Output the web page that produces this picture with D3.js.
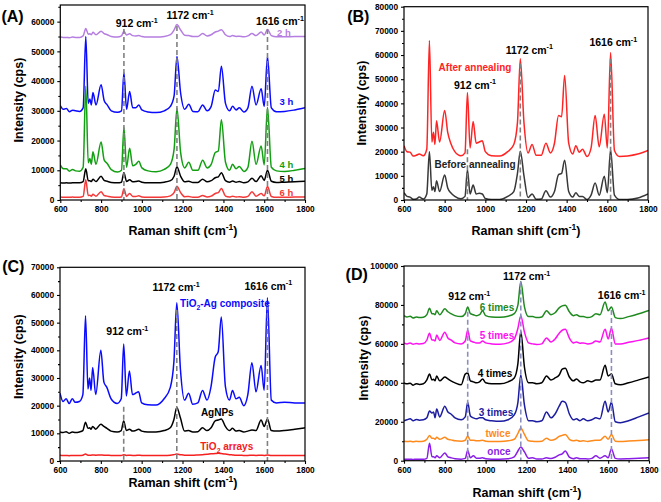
<!DOCTYPE html>
<html><head><meta charset="utf-8">
<script src="https://cdn.jsdelivr.net/npm/d3@7"></script>
<style>
body{margin:0;background:#fff}
text{font-family:"Liberation Sans",Arial,Helvetica,sans-serif;font-weight:bold}
</style>
</head><body>
<svg id="chart" width="661" height="502"></svg>
<script>
// ---- shared Raman shift sampling (cm-1) ----
const wavenumbers = [600,615,630,645,660,675,695,712,725,737,
  745,752,760,775,800,815,830,850,880,900,
  912,925,940,955,970,985,1000,1030,1070,1110,
  1140,1158,1172,1190,1210,1230,1250,1275,1298,1320,
  1340,1360,1375,1390,1410,1430,1445,1462,1478,1500,
  1520,1540,1560,1585,1600,1616,1635,1660,1700,1750,
  1800];
const xTickValues = [600,800,1000,1200,1400,1600,1800];

// ---- Panel A: growth time ----
const a2h = [54800,54700,54700,54600,54800,54700,54700,55200,57700,55800,
  55900,55600,56400,55600,56800,56000,55600,55000,54800,55200,
  56800,55500,55900,55300,55200,55300,55000,54800,54800,55000,
  55600,57200,59000,57200,55400,55300,55000,55000,56000,55200,
  55600,56500,56800,57300,55600,55000,55300,55000,55100,54900,
  55200,56000,55300,56500,55500,57400,55300,54900,54900,55000,
  55000];
const a3h = [31800,30500,30800,29700,30200,30000,29800,31000,55000,32500,
  34000,32000,36200,32000,38800,33500,32000,30000,29500,30000,
  42800,30500,36500,31000,31000,32000,30300,29600,29400,30000,
  31500,35000,48300,36000,30500,32200,29800,29700,32000,30000,
  31500,37000,36500,45000,32500,30000,31500,30300,31000,29600,
  31000,38300,32000,37400,31500,48300,31000,29700,29800,30300,
  31000];
const a4h = [11800,10500,10500,9700,10300,9800,9700,11000,38300,12500,
  14000,12000,16200,12000,19500,13500,12300,10200,9400,10000,
  24400,11000,17400,11500,12000,13000,10800,9800,9500,10300,
  12000,17000,30800,16000,10800,12700,10000,10000,13400,10800,
  12000,16000,16500,27000,12800,10000,12000,10500,11300,9600,
  11000,19800,12000,18200,11800,31200,11000,9800,9600,10000,
  10600];
const a5h = [5800,5700,5800,5700,5800,5800,5800,6200,10500,6500,
  6500,6200,7000,6200,8000,6600,6300,5900,5800,6000,
  9200,6200,6800,6100,6200,6400,6000,5800,5800,6000,
  6500,8000,11200,8000,6100,6300,5900,5900,7000,6100,
  6500,7500,7800,9200,6500,6000,6400,6000,6200,5800,
  6100,7300,6200,8200,6600,10000,6300,5900,6000,6100,
  6300];
const a6h = [1000,900,900,900,1000,900,900,1200,6800,1500,
  1600,1300,1900,1300,2800,1500,1300,1000,900,1000,
  3800,1200,2200,1200,1200,1400,1000,900,900,1000,
  1400,2500,4600,2500,1100,1200,900,900,1500,1000,
  1300,2200,2500,3900,1300,1000,1300,1000,1100,900,
  1200,2800,1300,2200,1400,4500,1200,900,900,1000,
  1000];
const aYTicks = [0,10000,20000,30000,40000,50000,60000];

// ---- Panel B: annealing ----
const bAfter = [22500,20000,19800,18200,18500,19000,18300,21000,66000,24000,
  28000,23000,32800,24000,37000,28000,23500,20000,18300,19500,
  44500,21500,32500,23500,24000,24500,20000,18300,18200,20000,
  23000,32000,58500,32000,19500,23000,18500,18500,23500,19500,
  23500,35000,34500,51500,23500,19000,22500,19800,21000,18000,
  21500,35000,22000,35500,21500,61000,20500,18000,18200,19000,
  20500];
const bBefore = [3000,1500,1200,300,400,1200,400,2500,20000,4000,
  5500,3500,8000,3500,10300,5000,3000,1500,500,1500,
  12500,2500,6200,2500,2800,2500,600,200,200,1500,
  3500,11000,20200,10000,1000,2500,300,400,3800,1200,
  3500,10500,11000,16500,3500,1200,3000,1500,1500,200,
  2000,7000,2000,9800,3000,20800,2000,200,200,800,
  2500];
const bYTicks = [0,10000,20000,30000,40000,50000,60000,70000,80000];

// ---- Panel C: substrates ----
const cComposite = [24500,21500,22500,20800,22500,21200,21500,24000,52500,26000,
  30000,25500,33800,24000,40000,28500,26500,22500,20800,22500,
  42300,23500,32500,24000,24500,25000,21000,20300,20200,22500,
  26500,36000,57200,33000,22000,24500,20500,21000,25500,22000,
  27000,37500,39500,52000,27000,22000,25500,22500,23000,20000,
  24000,35500,25000,34500,25500,59000,22000,21000,21200,21000,
  21000];
const cAgNPs = [10500,10300,10600,10000,10500,10300,10500,11000,14000,11800,
  12000,11500,12500,11500,13300,12500,11800,10800,10500,11000,
  14500,11000,11500,10800,11000,11500,10800,10500,10500,11000,
  12000,15000,19300,15500,10800,11000,10500,10600,12000,11000,
  12000,14500,14800,15200,12500,11000,11800,10800,11000,10500,
  10800,11200,11000,14800,12500,15200,11000,10800,11000,11500,
  12000];
const cTiO2 = [2100,2000,2000,1900,2000,2000,2000,2100,2500,2100,
  2100,2100,2200,2100,2200,2100,2100,2000,2000,2000,
  2300,2000,2100,2000,2000,2100,2000,2000,2000,2000,
  2100,2300,2500,2300,2100,2100,2100,2200,2300,2400,
  2600,2700,2800,2700,2500,2300,2200,2100,2100,2000,
  2000,2100,2000,2100,2000,2200,2000,2000,2000,2000,
  2000];
const cYTicks = [0,10000,20000,30000,40000,50000,60000,70000];

// ---- Panel D: deposition cycles ----
const d6 = [74500,73800,74200,73300,73800,73500,73700,75000,78300,75500,
  75500,75000,77000,75000,78000,76500,75500,74500,74000,75500,
  79000,75500,75000,74500,75000,77000,74500,73800,73700,74200,
  75500,80000,92000,79000,74000,74000,73500,73800,77000,75000,
  76000,78500,79500,79800,76500,74500,75000,74000,74000,73500,
  74000,75500,75000,81500,77000,79000,73500,73000,74000,75500,
  77200];
const d5 = [60500,60000,60500,59800,60200,60000,60200,62000,65500,62000,
  62000,61500,64500,61800,66000,63000,62000,60500,60000,61500,
  67000,61500,61000,60500,60500,61500,60500,60000,59800,60500,
  62500,68000,74500,66000,60500,60000,59700,60000,63000,61000,
  62500,65500,67000,67500,63000,60500,61000,60300,60500,60000,
  60300,61500,61000,67500,62500,68000,60000,60000,60800,61800,
  63000];
const d4 = [40000,39500,39800,38800,39500,39200,39500,41500,44500,41500,
  41800,41000,43500,41000,43000,42000,41000,40000,39000,44500,
  45000,41000,40500,40000,40500,42000,40000,39500,39500,40500,
  42500,50000,66500,48000,40000,40000,39500,40000,43500,41500,
  42500,44000,47000,47500,43000,41000,42000,40500,40000,41000,
  40500,41500,41500,49000,43500,44500,39500,39000,40000,41500,
  43000];
const d3s = [20500,21000,21500,20500,21200,20800,21000,22000,25500,24500,
  25000,22000,26500,22500,28000,25000,24000,22000,21000,22500,
  30000,23000,22000,21500,22000,22000,21000,20500,20200,21000,
  23500,30000,44000,28500,20500,20500,20000,20500,25000,22000,
  24000,28000,30500,30000,24000,21000,21500,20500,21500,20500,
  21000,22000,21500,30500,25000,30000,20000,19500,20500,22500,
  24500];
const d2 = [10000,9800,10000,9700,10000,9800,10000,11000,13000,11500,
  11500,11000,12000,11000,12000,11000,10700,10200,10000,10500,
  12700,10500,10500,10200,10300,10500,10000,9800,9800,10200,
  11000,14000,16800,13500,10200,10000,9800,10000,11500,10500,
  11000,12500,13000,13500,11000,10200,10500,10000,10200,9900,
  10200,10500,10500,12500,11000,13500,10000,9900,10100,10400,
  10800];
const d1 = [800,700,800,600,800,700,700,1200,9000,2000,
  2000,1500,2500,1500,4000,2000,1500,1000,800,1200,
  5200,1500,2500,1300,1300,1500,1000,800,800,1000,
  2000,5000,7000,4500,1200,1500,900,900,1500,1100,
  1800,3000,3500,5000,1800,1000,1500,1000,1000,900,
  1200,2500,1300,2500,1500,6000,1200,900,1000,1200,
  1500];
const dYTicks = [0,20000,40000,60000,80000,100000];

const peakPositions = [912,1172,1616];

// ---------------- drawing ----------------
const svg = d3.select("#chart");

function rich(g, parts, x, yc, size, color, anchor) {
  const t = g.append("text").attr("x", x).attr("y", yc + size*0.35)
    .attr("font-size", size).attr("fill", color || "#000")
    .attr("text-anchor", anchor || "middle");
  let shift = 0;
  parts.forEach(p => {
    const str = typeof p === "string" ? p : p[0];
    const type = typeof p === "string" ? "" : p[1];
    const target = type === "sup" ? -size*0.42 : type === "sub" ? size*0.28 : 0;
    const ts = t.append("tspan").text(str).attr("dy", target - shift);
    if (type) ts.attr("font-size", size*0.68);
    shift = target;
  });
  return t;
}
const cm = n => [n + " cm", ["-1","sup"]];

const panels = [
  { key:"A", l:60.3, r:305, t:5, b:200, yMax:65600, yTicks:aYTicks, yStep:10000,
    series:[[a2h,"#b57ee0"],[a3h,"#0a0aff"],[a4h,"#12a012"],[a5h,"#000000"],[a6h,"#f53838"]],
    dashTop:[57500,58500,57500], dashColor:"#808080",
    labels:[
      {p:cm(912), x:136.7, y:23.3, s:10.5},
      {p:cm(1172), x:190, y:15.7, s:10.5},
      {p:cm(1616), x:280, y:21.7, s:10.5},
      {p:["2 h"], x:277, y:32.3, s:9.5, c:"#b57ee0", a:"start"},
      {p:["3 h"], x:279.5, y:101.3, s:9.5, c:"#0a0aff", a:"start"},
      {p:["4 h"], x:279.5, y:165, s:9.5, c:"#12a012", a:"start"},
      {p:["5 h"], x:279.5, y:179, s:9.5, c:"#000", a:"start"},
      {p:["6 h"], x:279.5, y:192.3, s:9.5, c:"#f53838", a:"start"}
    ],
    tag:[12.5,16.7], yTitle:[19,100], xTitle:[183,231] },
  { key:"B", l:404, r:648, t:6.7, b:200, yMax:80000, yTicks:bYTicks, yStep:10000,
    series:[[bAfter,"#ff2424"],[bBefore,"#383838"]],
    dashTop:[21000,56500,58500], dashColor:"#808080",
    labels:[
      {p:cm(912), x:475, y:85, s:10.5},
      {p:cm(1172), x:529.3, y:50, s:10.5},
      {p:cm(1616), x:613.3, y:42.7, s:10.5},
      {p:["After annealing"], x:475, y:67.7, s:10, c:"#ff2424"},
      {p:["Before annealing"], x:475, y:164.3, s:10, c:"#222"}
    ],
    tag:[358.3,16.7], yTitle:[362,103], xTitle:[526,231] },
  { key:"C", l:60, r:305, t:267.3, b:461, yMax:70000, yTicks:cYTicks, yStep:10000,
    series:[[cComposite,"#0a0aff"],[cAgNPs,"#000000"],[cTiO2,"#f52020"]],
    dashTop:[19600,54600,56400], dashColor:"#808080",
    labels:[
      {p:cm(912), x:127.3, y:331.7, s:10.5},
      {p:cm(1172), x:176, y:287.7, s:10.5},
      {p:cm(1616), x:268.3, y:286, s:10.5},
      {p:["TiO",["2","sub"],"-Ag composite"], x:180, y:303.3, s:10, c:"#0a0aff", a:"start"},
      {p:["AgNPs"], x:217.3, y:412.3, s:10, c:"#000"},
      {p:["TiO",["2","sub"]," arrays"], x:226.7, y:446.7, s:10, c:"#f52020"}
    ],
    tag:[13.3,266.7], yTitle:[19,356.7], xTitle:[183,483] },
  { key:"D", l:404, r:649, t:266, b:460.7, yMax:100000, yTicks:dYTicks, yStep:20000,
    series:[[d6,"#1f8a1f"],[d5,"#ff10f0"],[d4,"#000000"],[d3s,"#1c1ca0"],[d2,"#ff8a1c"],[d1,"#8a1ee6"]],
    dashTop:[76500,92000,77400], dashColor:"#8a8fbe",
    labels:[
      {p:cm(912), x:469.3, y:296.7, s:10.5},
      {p:cm(1172), x:526.7, y:276.7, s:10.5},
      {p:cm(1616), x:621.7, y:295.7, s:10.5},
      {p:["6 times"], x:497, y:307.3, s:10, c:"#1f8a1f"},
      {p:["5 times"], x:497, y:335, s:10, c:"#ff10f0"},
      {p:["4 times"], x:495, y:373.3, s:10, c:"#000"},
      {p:["3 times"], x:496, y:412.3, s:10, c:"#1c1ca0"},
      {p:["twice"], x:498, y:433.7, s:10, c:"#ff8a1c"},
      {p:["once"], x:499, y:451, s:10, c:"#8a1ee6"}
    ],
    tag:[356.7,274], yTitle:[363.3,358], xTitle:[527,493] }
];

panels.forEach((P) => {
  const g = svg.append("g");
  const x = d3.scaleLinear().domain([600,1800]).range([P.l, P.r]);
  const y = d3.scaleLinear().domain([0, P.yMax]).range([P.b, P.t]);

  const clipId = "clip" + P.key;
  svg.append("clipPath").attr("id", clipId).append("rect")
    .attr("x", P.l).attr("y", P.t).attr("width", P.r - P.l).attr("height", P.b - P.t);

  const line = d3.line().x((d,i) => x(wavenumbers[i])).y(d => y(d)).curve(d3.curveMonotoneX);
  const plot = g.append("g").attr("clip-path", `url(#${clipId})`);
  P.series.forEach(([vals, col]) => {
    plot.append("path").attr("d", line(vals)).attr("fill","none")
      .attr("stroke", col).attr("stroke-width", 1.5).attr("stroke-linejoin","round");
  });
  peakPositions.forEach((pp, k) => {
    plot.append("line").attr("x1", x(pp)).attr("x2", x(pp))
      .attr("y1", y(P.dashTop[k])).attr("y2", y(0))
      .attr("stroke", P.dashColor).attr("stroke-width", 1.6).attr("stroke-dasharray","5,3");
  });

  const minorY = d3.range(P.yStep/2, P.yMax, P.yStep/2).filter(v => v % P.yStep !== 0);
  const minorX = d3.range(700, 1800, 200);
  const ya = g.append("g").attr("transform", `translate(${P.l},0)`)
    .call(d3.axisLeft(y).tickValues(P.yTicks).tickSize(3).tickPadding(3).tickFormat(d3.format("d")));
  const ym = g.append("g").attr("transform", `translate(${P.l},0)`)
    .call(d3.axisLeft(y).tickValues(minorY).tickSize(2).tickFormat(""));
  const xa = g.append("g").attr("transform", `translate(0,${P.b})`)
    .call(d3.axisBottom(x).tickValues(xTickValues).tickSize(3).tickPadding(3).tickFormat(d3.format("d")));
  const xm = g.append("g").attr("transform", `translate(0,${P.b})`)
    .call(d3.axisBottom(x).tickValues(minorX).tickSize(2).tickFormat(""));
  [ya, ym, xa, xm].forEach(a => {
    a.select(".domain").remove();
    a.selectAll("line").attr("stroke","#000").attr("stroke-width",1.1);
    a.selectAll("text").attr("font-size", 8.3).attr("font-family", null).attr("fill","#000");
  });
  g.append("rect").attr("x", P.l).attr("y", P.t).attr("width", P.r - P.l).attr("height", P.b - P.t)
    .attr("fill","none").attr("stroke","#000").attr("stroke-width",1.2);

  P.labels.forEach(L => rich(g, L.p, L.x, L.y, L.s, L.c || "#000", L.a || "middle"));
  rich(g, ["(" + P.key + ")"], P.tag[0], P.tag[1], 16, "#000");
  const yt = rich(g, ["Intensity (cps)"], 0, 0, 12.5, "#000");
  yt.attr("transform", `translate(${P.yTitle[0]},${P.yTitle[1]}) rotate(-90)`);
  rich(g, ["Raman shift (cm", ["-1","sup"], ")"], P.xTitle[0], P.xTitle[1], 12.5, "#000");
});
</script>
</body></html>
